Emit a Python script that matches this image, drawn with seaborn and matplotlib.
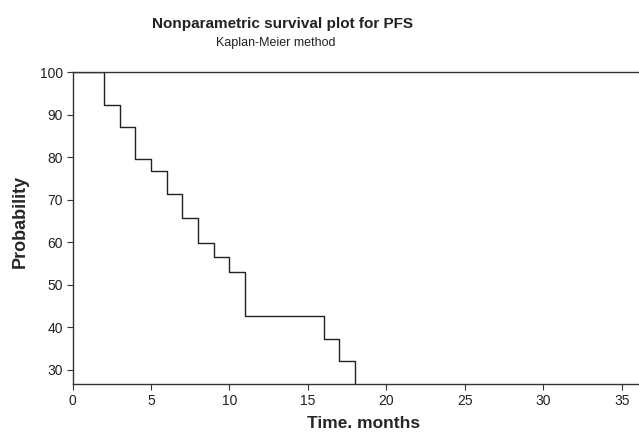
import pandas as pd
import matplotlib.pyplot as plt
import seaborn as sns

# Kaplan-Meier estimate
time_months = [0, 2, 3, 4, 5, 6, 7, 8, 9, 10, 11, 16, 17, 18]
survival_pct = [100, 92.3, 87.2, 79.5, 76.9, 71.4, 65.8, 59.8, 56.5, 53.1, 42.6, 37.3, 32.0, 0]
x_ticks = [0, 5, 10, 15, 20, 25, 30, 35]
y_ticks = [30, 40, 50, 60, 70, 80, 90, 100]


def main():
    sns.set_style('ticks')
    plt.rcParams['font.family'] = ['Liberation Sans', 'DejaVu Sans']

    df = pd.DataFrame({'Time': time_months, 'Probability': survival_pct})

    fig = plt.figure(figsize=(6.39, 4.32), dpi=100)
    ax = fig.add_axes([0.1135, 0.1104, 0.8865, 0.7222])

    sns.lineplot(data=df, x='Time', y='Probability', drawstyle='steps-post',
                 color='#222222', linewidth=1.0, ax=ax)

    ax.set_xlim(0, 36.1)
    ax.set_ylim(26.6, 100)
    ax.set_xticks(x_ticks)
    ax.set_yticks(y_ticks)
    ax.tick_params(direction='out', length=4, width=0.8, colors='#333333',
                   labelsize=10, labelcolor='#222222', pad=3)

    for side in ['left', 'bottom', 'top']:
        ax.spines[side].set_color('#333333')
        ax.spines[side].set_linewidth(1.0)
    ax.spines['right'].set_visible(False)

    ax.set_xlabel('Time. months', fontsize=12.5, fontweight='bold', labelpad=5.5)
    ax.set_ylabel('Probability', fontsize=13, fontweight='bold', labelpad=8)
    ax.xaxis.label.set_x(0.513)
    ax.yaxis.label.set_y(0.523)

    fig.text(283 / 639, 1 - 24 / 432, 'Nonparametric survival plot for PFS',
             ha='center', va='center', fontsize=11, fontweight='bold', color='#222222')
    fig.text(276 / 639, 1 - 43 / 432, 'Kaplan-Meier method',
             ha='center', va='center', fontsize=9, color='#222222')

    fig.savefig('out.png', dpi=100)


if __name__ == "__main__":
    main()
